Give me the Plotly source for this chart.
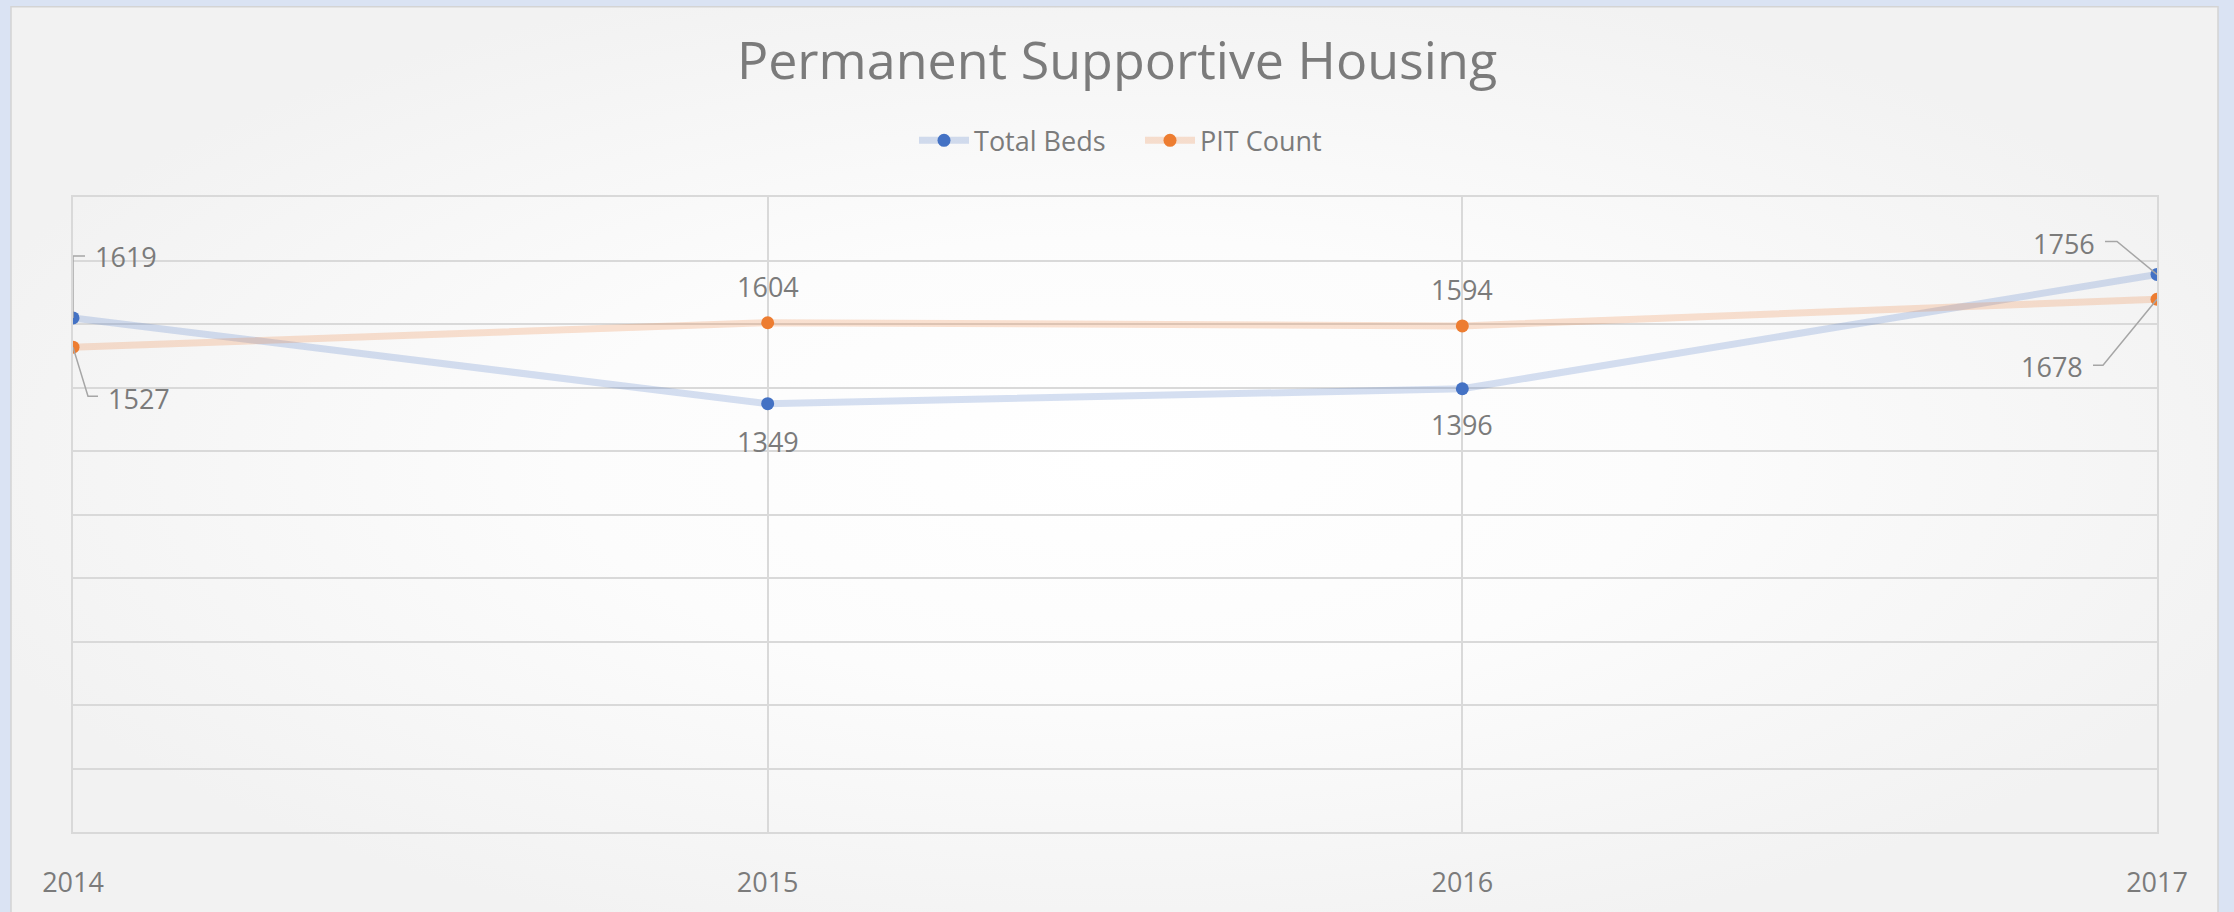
import base64
import plotly.graph_objects as go

years = [2014, 2015, 2016, 2017]
year_labels = ["2014", "2015", "2016", "2017"]
total_beds = [1619, 1349, 1396, 1756]
pit_count = [1527, 1604, 1594, 1678]

# label placement (pixel offsets from each point) and leader paths
tb_label_shift = [(53, 61), (0, -38), (0, -36), (-93, 31)]
pit_label_shift = [(66, -51), (0, 36), (0, 36), (-105, -67)]
tb_leaders = {0: "M 0 0 L 0 62 L 12 62", 3: "M 0 0 L -40 33 L -52 33"}
pit_leaders = {0: "M 0 0 L 15 -49 L 25 -49", 3: "M 0 0 L -54 -66 L -64 -66"}

W, H = 2234, 912
ml, mr, mt, mb = 73, 77, 197, 71
pw, ph = W - ml - mr, H - mt - mb

TXT = "#7b7b7b"
FONT = "Open Sans, Liberation Sans, sans-serif"
BLUE, ORANGE = "#4472C4", "#ED7D31"

fig = go.Figure()
fig.add_trace(go.Scatter(
    x=years, y=total_beds, name="Total Beds", mode="lines+markers",
    line=dict(color="rgba(68,114,196,0.22)", width=7),
    marker=dict(color=BLUE, size=13),
))
fig.add_trace(go.Scatter(
    x=years, y=pit_count, name="PIT Count", mode="lines+markers",
    line=dict(color="rgba(237,125,49,0.22)", width=7),
    marker=dict(color=ORANGE, size=13),
))

annotations = []
shapes = []

def px2paper_x(px):
    return (px - ml) / pw

def px2paper_y(py):
    return (H - mb - py) / ph

# background gradient of the chart area
svg = ("<svg xmlns='http://www.w3.org/2000/svg' width='1000' height='500' preserveAspectRatio='none' "
       "viewBox='0 0 1000 500'><defs><radialGradient id='g' cx='0.5' cy='0.5' r='0.55'>"
       "<stop offset='0' stop-color='#ffffff'/><stop offset='0.45' stop-color='#fcfcfc'/>"
       "<stop offset='1' stop-color='#f2f2f2'/></radialGradient></defs>"
       "<rect width='1000' height='500' fill='url(#g)'/></svg>")
src = "data:image/svg+xml;base64," + base64.b64encode(svg.encode()).decode()
fx0, fx1, fy0, fy1 = px2paper_x(11), px2paper_x(2218), px2paper_y(930), px2paper_y(4)
images = [dict(source=src, xref="paper", yref="paper", x=fx0, y=fy1,
               sizex=fx1 - fx0, sizey=fy1 - fy0, sizing="stretch",
               xanchor="left", yanchor="top", layer="below")]

shapes.append(dict(type="rect", xref="paper", yref="paper", layer="below",
                   x0=fx0, x1=fx1, y0=fy0, y1=fy1,
                   fillcolor="rgba(0,0,0,0)", line=dict(color="#d4d4d4", width=1.5)))

for series, shifts, leaders in [(total_beds, tb_label_shift, tb_leaders),
                                (pit_count, pit_label_shift, pit_leaders)]:
    for i, (yr, v) in enumerate(zip(years, series)):
        dx, dy = shifts[i]
        annotations.append(dict(x=yr, y=v, xref="x", yref="y", text=str(v), showarrow=False,
                                xshift=dx, yshift=dy, font=dict(size=27, color=TXT, family=FONT)))
        if i in leaders:
            shapes.append(dict(type="path", xref="x", yref="y", xsizemode="pixel", ysizemode="pixel",
                               xanchor=yr, yanchor=v, path=leaders[i], layer="above",
                               line=dict(color="#a6a6a6", width=1.5)))

fig.update_layout(
    width=W, height=H,
    margin=dict(l=ml, r=mr, t=mt, b=mb),
    paper_bgcolor="#dae3f3",
    plot_bgcolor="rgba(0,0,0,0)",
    font=dict(family=FONT, color=TXT),
    title=dict(text="Permanent Supportive Housing", x=0.5, xanchor="center",
               y=(H - 61) / H, yanchor="middle", yref="container",
               font=dict(size=52, color=TXT, family=FONT)),
    legend=dict(orientation="h", x=0.512, xanchor="center", y=px2paper_y(140), yanchor="middle",
                font=dict(size=27, color=TXT, family=FONT), bgcolor="rgba(0,0,0,0)",
                itemwidth=50, entrywidth=161, tracegroupgap=0),
    showlegend=True,
    annotations=annotations,
    shapes=shapes,
    images=images,
    xaxis=dict(range=[2014, 2017], tickvals=years, ticktext=year_labels,
               showgrid=True, gridcolor="#d9d9d9", gridwidth=1.5,
               showline=True, linecolor="#d9d9d9", linewidth=1.5, mirror=True,
               ticks="outside", ticklen=26, tickcolor="rgba(0,0,0,0)",
               tickfont=dict(size=27, color=TXT, family=FONT), zeroline=False),
    yaxis=dict(range=[0, 2000], dtick=200, showticklabels=False,
               showgrid=True, gridcolor="#d9d9d9", gridwidth=1.5,
               showline=True, linecolor="#d9d9d9", linewidth=1.5, mirror=True,
               zeroline=False, ticks=""),
)

fig.write_html("out.html", config={"displayModeBar": False},
               post_script="document.body.style.margin='0';document.body.style.overflow='hidden';")
